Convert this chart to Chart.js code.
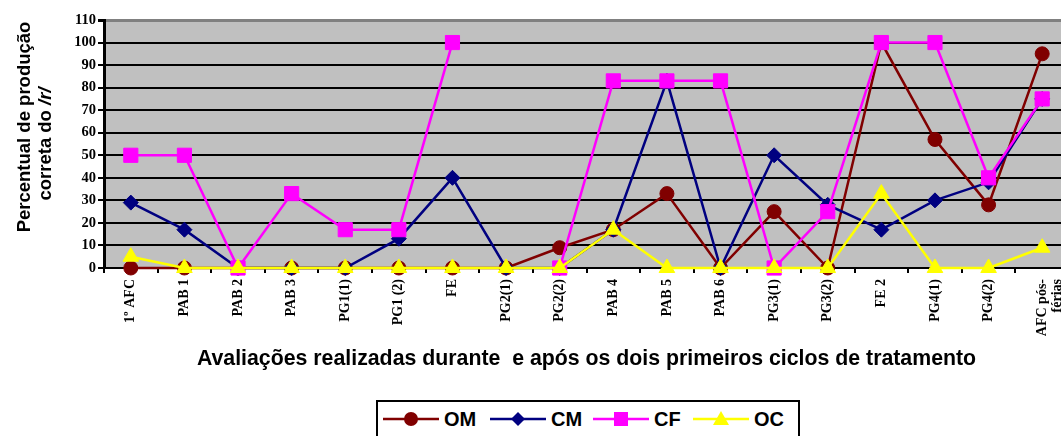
<!DOCTYPE html>
<html>
<head>
<meta charset="utf-8">
<script src="https://cdn.jsdelivr.net/npm/chart.js"></script>
<style>
  html, body { margin: 0; padding: 0; background: #fff; overflow: hidden; }
  #wrap { position: relative; width: 1080px; height: 436px; }
  #legend {
    position: absolute; left: 376px; top: 400px; width: 424px; height: 50px;
    border: 2px solid #000; box-sizing: border-box; background: #fff;
  }
  .item { position: absolute; top: 6px; height: 22px; display: flex; align-items: center; }
  .item span { font: bold 20px "Liberation Sans", Arial, sans-serif; color: #000; margin-left: 5px; }
</style>
</head>
<body>
<div id="wrap">
  <canvas id="chart" width="1080" height="436"></canvas>
  <div id="legend"></div>
</div>
<script>
// categories (x axis)
const labels = ['1º AFC', 'PAB 1', 'PAB 2', 'PAB 3', 'PG1(1)', 'PG1 (2)', 'FE', 'PG2(1)', 'PG2(2)',
  'PAB 4', 'PAB 5', 'PAB 6', 'PG3(1)', 'PG3(2)', 'FE 2', 'PG4(1)', 'PG4(2)', ['AFC pós-', 'férias']];

// series values (%)
const omValues = [0, 0, 0, 0, 0, 0, 0, 0, 9, 17, 33, 0, 25, 0, 100, 57, 28, 95];
const cmValues = [29, 17, 0, 0, 0, 13, 40, 0, 0, 17, 83, 0, 50, 28, 17, 30, 38, 75];
const cfValues = [50, 50, 0, 33, 17, 17, 100, null, 0, 83, 83, 83, 0, 25, 100, 100, 40, 75];
const ocValues = [5, 0, 0, 0, 0, 0, 0, 0, 0, 17, 0, 0, 0, 0, 33, 0, 0, 9];

const seriesNames = ['OM', 'CM', 'CF', 'OC'];

const yTitle1 = 'Percentual de produção';
const yTitle2 = 'correta do ';
const yTitle2Italic = '/r/';
const xTitle = 'Avaliações realizadas durante  e após os dois primeiros ciclos de tratamento';

const styles = {
  OM: { color: '#800000', point: 'circle', radius: 7 },
  CM: { color: '#000080', point: 'rectRot', radius: 7.5 },
  CF: { color: '#FF00FF', point: 'rect', radius: 10 },
  OC: { color: '#FFFF00', point: 'triangle', radius: 9 }
};
const valuesByName = { OM: omValues, CM: cmValues, CF: cfValues, OC: ocValues };

// gray plot background
const plotBg = {
  id: 'plotBg',
  beforeDraw(chart) {
    const { ctx, chartArea: a } = chart;
    ctx.save();
    ctx.fillStyle = '#c0c0c0';
    ctx.fillRect(a.left, a.top, a.right - a.left, a.bottom - a.top);
    ctx.restore();
  }
};

// two-line y title, second line with italic /r/
const yTitlePlugin = {
  id: 'yTitle',
  afterDraw(chart) {
    const ctx = chart.ctx;
    const bold = 'bold 18.5px "Liberation Sans", Arial, sans-serif';
    const boldIt = 'italic bold 18.5px "Liberation Sans", Arial, sans-serif';
    ctx.save();
    ctx.fillStyle = '#000';
    ctx.textBaseline = 'middle';
    // line 1
    ctx.save();
    ctx.translate(25, 127);
    ctx.rotate(-Math.PI / 2);
    ctx.font = bold;
    ctx.textAlign = 'center';
    ctx.fillText(yTitle1, 0, 0);
    ctx.restore();
    // line 2
    ctx.save();
    ctx.translate(46, 144);
    ctx.rotate(-Math.PI / 2);
    ctx.font = bold;
    const w1 = ctx.measureText(yTitle2).width;
    ctx.font = boldIt;
    const w2 = ctx.measureText(yTitle2Italic).width;
    const start = -(w1 + w2) / 2;
    ctx.textAlign = 'left';
    ctx.font = bold;
    ctx.fillText(yTitle2, start, 0);
    ctx.font = boldIt;
    ctx.fillText(yTitle2Italic, start + w1, 0);
    ctx.restore();
    ctx.restore();
  }
};

const datasets = seriesNames.map((name, i) => {
  const s = styles[name];
  return {
    label: name,
    data: valuesByName[name],
    borderColor: s.color,
    backgroundColor: s.color,
    borderWidth: 2.5,
    pointStyle: s.point,
    pointRadius: s.radius,
    pointHoverRadius: s.radius,
    pointBackgroundColor: s.color,
    pointBorderColor: s.color,
    pointBorderWidth: 1,
    tension: 0,
    spanGaps: false,
    clip: false,
    order: seriesNames.length - i
  };
});

new Chart(document.getElementById('chart'), {
  type: 'line',
  data: { labels: labels, datasets: datasets },
  plugins: [plotBg, yTitlePlugin],
  options: {
    responsive: false,
    animation: false,
    layout: { padding: { top: 20, right: 8, bottom: 56, left: 0 } },
    plugins: { legend: { display: false }, tooltip: { enabled: false } },
    scales: {
      x: {
        offset: true,
        grid: { drawOnChartArea: false, offset: true, color: '#000', lineWidth: 2, tickLength: 5 },
        border: { display: true, color: '#000', width: 2 },
        ticks: {
          color: '#000', autoSkip: false, maxRotation: 90, minRotation: 90, padding: 6,
          font: { family: '"Liberation Serif", "Times New Roman", serif', size: 14, weight: 'bold', lineHeight: 1.1 }
        },
        title: {
          display: true, text: xTitle, color: '#000',
          font: { family: '"Liberation Sans", Arial, sans-serif', size: 21.3, weight: 'bold' },
          padding: { top: 0, bottom: 8 }
        },
        afterFit(s) { s.height = 112; }
      },
      y: {
        min: 0, max: 110,
        grid: {
          color: c => (c.tick && c.tick.value === 110 ? '#808080' : '#000'),
          tickColor: '#000',
          lineWidth: c => (c.tick && c.tick.value === 110 ? 3 : 2),
          tickLength: 6
        },
        border: { display: true, color: '#000', width: 3 },
        ticks: {
          stepSize: 10, color: '#000', padding: 2,
          font: { family: '"Liberation Serif", "Times New Roman", serif', size: 14.5, weight: 'bold' }
        },
        afterFit(s) { s.width = 104; }
      }
    }
  }
});

// legend: line with marker, then the series name
function legendIcon(name) {
  const c = styles[name].color;
  let marker = '';
  if (styles[name].point === 'circle') marker = `<circle cx="28" cy="11" r="7" fill="${c}"/>`;
  else if (styles[name].point === 'rectRot') marker = `<polygon points="28,4 35,11 28,18 21,11" fill="${c}"/>`;
  else if (styles[name].point === 'rect') marker = `<rect x="21" y="4" width="14" height="14" fill="${c}"/>`;
  else marker = `<polygon points="28,3 36,17 20,17" fill="${c}"/>`;
  return `<svg width="56" height="22"><line x1="0" y1="11" x2="56" y2="11" stroke="${c}" stroke-width="2.5"/>${marker}</svg>`;
}
const legendOffsets = [5, 112, 215, 315];
const legendEl = document.getElementById('legend');
seriesNames.forEach((name, i) => {
  const div = document.createElement('div');
  div.className = 'item';
  div.style.left = legendOffsets[i] + 'px';
  div.innerHTML = legendIcon(name) + `<span>${name}</span>`;
  legendEl.appendChild(div);
});
</script>
</body>
</html>
